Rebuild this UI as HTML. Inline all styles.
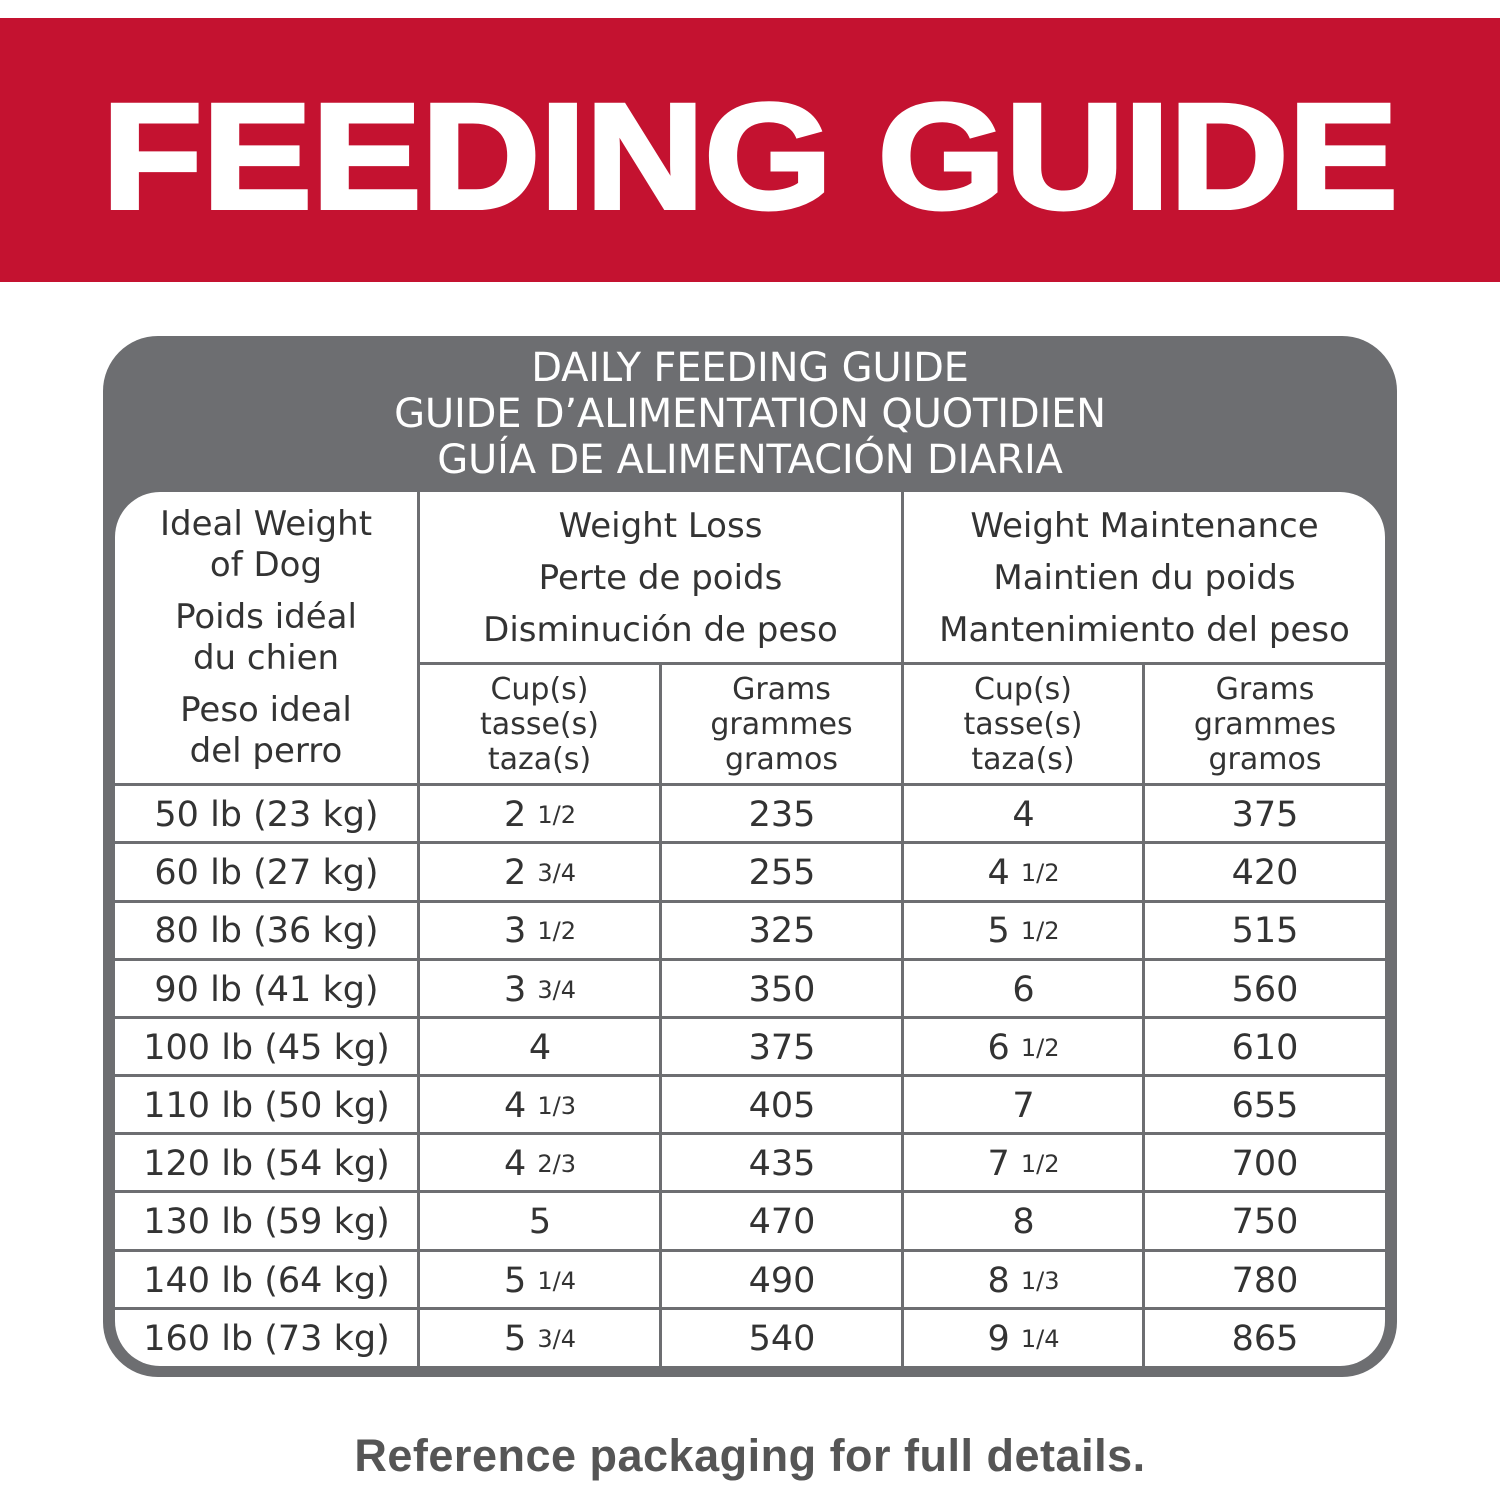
<!DOCTYPE html>
<html><head><meta charset="utf-8"><style>
body{margin:0;width:1500px;height:1500px;background:#fff;position:relative;overflow:hidden;font-family:"DejaVu Sans","Liberation Sans",sans-serif;color:#333}
.ban{position:absolute;left:0;top:18px;width:1500px;height:264px;background:#c41230}
.ban div{position:absolute;left:0;width:1500px;top:52px;text-align:center;font:900 150px "Liberation Sans",sans-serif;color:#fff;letter-spacing:0px;transform:scaleX(1.095);-webkit-text-stroke:4px #fff}
.box{position:absolute;left:103px;top:336px;width:1294px;height:1041px;background:#6d6e71;border-radius:55px}
.title{position:absolute;left:103px;width:1294px;text-align:center;color:#fff;font-size:40px;line-height:46px;top:345px;letter-spacing:-0.2px}
.inner{position:absolute;left:115px;top:492px;width:1270px;height:874px;background:#fff;border-radius:45px;overflow:hidden}
.v{position:absolute;width:3px;background:#6d6e71}
.h{position:absolute;height:3px;background:#6d6e71}
.c{position:absolute;text-align:center;font-size:34px}
.r{position:absolute;text-align:center;font-size:35px;height:58px;line-height:58px}
.f{font-size:24px;position:relative;top:-3px}
.foot{position:absolute;left:0;width:1500px;top:1430px;text-align:center;font:bold 45px "Liberation Sans",sans-serif;color:#555;letter-spacing:0.5px}
</style></head><body>
<div class="ban"><div>FEEDING GUIDE</div></div>
<div class="box"></div>
<div class="title">DAILY FEEDING GUIDE<br>GUIDE D’ALIMENTATION QUOTIDIEN<br>GUÍA DE ALIMENTACIÓN DIARIA</div>
<div class="inner">
<div class="v" style="left:302px;top:0;height:874px"></div>
<div class="v" style="left:786px;top:0;height:874px"></div>
<div class="v" style="left:544px;top:171px;height:703px"></div>
<div class="v" style="left:1027px;top:171px;height:703px"></div>
<div class="h" style="left:302px;top:170px;width:968px"></div>
<div class="h" style="left:0;top:291px;width:1270px"></div>
<div class="h" style="left:0;top:349px;width:1270px"></div>
<div class="h" style="left:0;top:408px;width:1270px"></div>
<div class="h" style="left:0;top:466px;width:1270px"></div>
<div class="h" style="left:0;top:524px;width:1270px"></div>
<div class="h" style="left:0;top:582px;width:1270px"></div>
<div class="h" style="left:0;top:640px;width:1270px"></div>
<div class="h" style="left:0;top:698px;width:1270px"></div>
<div class="h" style="left:0;top:757px;width:1270px"></div>
<div class="h" style="left:0;top:815px;width:1270px"></div>
<div class="c" style="left:0;width:302px;top:12px;line-height:41px">Ideal Weight<br>of Dog</div>
<div class="c" style="left:0;width:302px;top:105px;line-height:41px">Poids idéal<br>du chien</div>
<div class="c" style="left:0;width:302px;top:198px;line-height:41px">Peso ideal<br>del perro</div>
<div class="c" style="left:305px;width:481px;top:8px;line-height:52px">Weight Loss<br>Perte de poids<br>Disminución de peso</div>
<div class="c" style="left:789px;width:481px;top:8px;line-height:52px">Weight Maintenance<br>Maintien du poids<br>Mantenimiento del peso</div>
<div class="c" style="left:305px;width:239px;top:180px;line-height:35px;font-size:30px">Cup(s)<br>tasse(s)<br>taza(s)</div>
<div class="c" style="left:547px;width:239px;top:180px;line-height:35px;font-size:30px">Grams<br>grammes<br>gramos</div>
<div class="c" style="left:789px;width:238px;top:180px;line-height:35px;font-size:30px">Cup(s)<br>tasse(s)<br>taza(s)</div>
<div class="c" style="left:1030px;width:240px;top:180px;line-height:35px;font-size:30px">Grams<br>grammes<br>gramos</div>
</div>
<div id="rows"></div>
<script>
var d=[["50 lb (23 kg)","2 <span class=f>1/2</span>","235","4","375"],
["60 lb (27 kg)","2 <span class=f>3/4</span>","255","4 <span class=f>1/2</span>","420"],
["80 lb (36 kg)","3 <span class=f>1/2</span>","325","5 <span class=f>1/2</span>","515"],
["90 lb (41 kg)","3 <span class=f>3/4</span>","350","6","560"],
["100 lb (45 kg)","4","375","6 <span class=f>1/2</span>","610"],
["110 lb (50 kg)","4 <span class=f>1/3</span>","405","7","655"],
["120 lb (54 kg)","4 <span class=f>2/3</span>","435","7 <span class=f>1/2</span>","700"],
["130 lb (59 kg)","5","470","8","750"],
["140 lb (64 kg)","5 <span class=f>1/4</span>","490","8 <span class=f>1/3</span>","780"],
["160 lb (73 kg)","5 <span class=f>3/4</span>","540","9 <span class=f>1/4</span>","865"]];
var xs=[[115,303],[420,240],[662,240],[904,239],[1145,240]],h="";
d.forEach(function(r,i){var y=786+i*58.2;r.forEach(function(t,j){h+='<div class="r" style="left:'+xs[j][0]+'px;width:'+xs[j][1]+'px;top:'+y+'px">'+t+'</div>';});});
document.getElementById("rows").innerHTML=h;
</script>
<div class="foot">Reference packaging for full details.</div>
</body></html>
